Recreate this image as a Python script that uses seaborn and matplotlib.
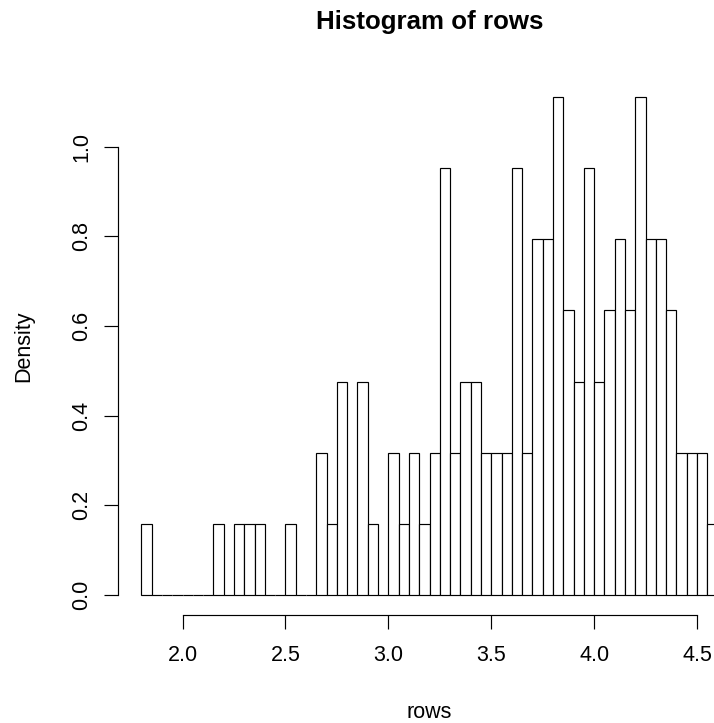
import matplotlib
matplotlib.use('Agg')
import matplotlib.pyplot as plt
import numpy as np
import pandas as pd
import seaborn as sns

# histogram of rows: counts per 0.05 bin starting at 1.8
bin_start = 1.8
bin_width = 0.05
bin_counts = [1, 0, 0, 0, 0, 0, 0, 1, 0, 1,
              1, 1, 0, 0, 1, 0, 0, 2, 1, 3,
              0, 3, 1, 0, 2, 1, 2, 1, 2, 6,
              2, 3, 3, 2, 2, 2, 6, 2, 5, 5,
              7, 4, 3, 6, 3, 4, 5, 4, 7, 5,
              5, 4, 2, 2, 2, 1]
x_ticks = [2.0, 2.5, 3.0, 3.5, 4.0, 4.5]
y_ticks = [0.0, 0.2, 0.4, 0.6, 0.8, 1.0]

sns.set_style('ticks')
plt.rcParams['font.family'] = ['Liberation Sans', 'DejaVu Sans']
plt.rcParams['axes.edgecolor'] = 'black'
plt.rcParams['xtick.color'] = 'black'
plt.rcParams['ytick.color'] = 'black'
plt.rcParams['text.color'] = 'black'
plt.rcParams['axes.labelcolor'] = 'black'

edges = [round(bin_start + bin_width * i, 4) for i in range(len(bin_counts) + 1)]
dfRows = pd.DataFrame({'rows': [e + bin_width / 2 for e in edges[:-1]],
                       'count': bin_counts})

W, H = 714, 723
fig = plt.figure(figsize=(W / 100, H / 100), dpi=100)
# plot region runs past the right edge of the picture, like the original
ax = fig.add_axes([118.3 / W, (H - 615) / H, 622.4 / W, 538 / H])

sns.histplot(data=dfRows, x='rows', weights='count', bins=edges, stat='density',
             color='white', edgecolor='black', linewidth=0.85, alpha=1, ax=ax)

ax.set_xlim(1.688, 4.712)
ax.set_ylim(-0.0444, 1.1556)
sns.despine(ax=ax)
ax.spines['left'].set_bounds(0, 1.0)
ax.spines['bottom'].set_bounds(2.0, 4.5)
ax.spines['left'].set_linewidth(0.85)
ax.spines['bottom'].set_linewidth(0.85)

ax.set_xticks(x_ticks, labels=[f'{v:.1f}' for v in x_ticks])
ax.set_yticks(y_ticks, labels=[f'{v:.1f}' for v in y_ticks])
ax.tick_params(length=10, width=0.85, direction='out', labelsize=15.5)
ax.tick_params(axis='x', pad=11.5)
ax.tick_params(axis='y', pad=9, labelrotation=90)
for lab in ax.get_yticklabels():
    lab.set_va('center')

ax.set_title('Histogram of rows', fontsize=18.6, fontweight='bold',
             y=(615 - 29.3) / 538, pad=0, va='baseline')
ax.set_xlabel('rows', fontsize=15.5)
ax.xaxis.label.set_va('baseline')
ax.xaxis.set_label_coords(0.5, (615 - 718) / 538)
ax.set_ylabel('Density', fontsize=15.5)
ax.yaxis.label.set(rotation_mode='anchor', va='baseline', ha='center')
ax.yaxis.set_label_coords((29 - 118.3) / 622.4, 0.5)

fig.savefig('out.png', dpi=100)
plt.close()
